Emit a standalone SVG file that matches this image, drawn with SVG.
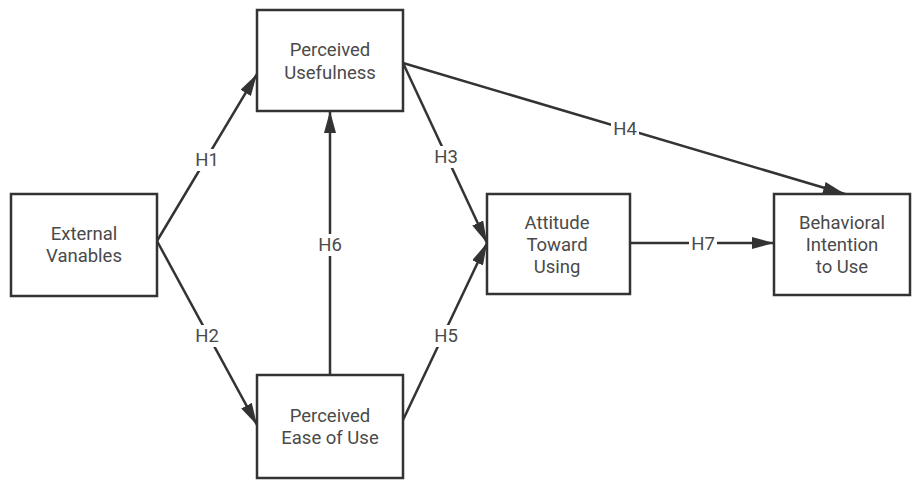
<svg xmlns="http://www.w3.org/2000/svg" width="912" height="480" viewBox="0 0 912 480">
<style>
.box{fill:#fff;stroke:#333;stroke-width:2.5}
.t{font-family:Roboto,"Noto Sans",sans-serif;font-size:18.5px;fill:#4a4a4a;text-anchor:middle}
.lbl{font-family:Roboto,"Noto Sans",sans-serif;font-size:18.5px;fill:#4a4a4a;text-anchor:middle;dominant-baseline:central}
.e{stroke:#333;stroke-width:2.5;fill:none;marker-end:url(#a)}
.bg{fill:#fff}
</style>
<defs>
<marker id="a" viewBox="0 0 22 12" refX="22" refY="6" markerWidth="22" markerHeight="12" markerUnits="userSpaceOnUse" orient="auto">
<path d="M0,0 L22,6 L0,12 z" fill="#333"/>
</marker>
</defs>
<rect width="912" height="480" fill="#fff"/>
<g id="connectors">
<line class="e" x1="157" y1="241" x2="257" y2="74"/>
<line class="e" x1="157" y1="241" x2="257" y2="425"/>
<line class="e" x1="330" y1="375" x2="330" y2="111"/>
<line class="e" x1="403" y1="63" x2="487" y2="243"/>
<line class="e" x1="403" y1="420" x2="487" y2="243"/>
<line class="e" x1="403" y1="63" x2="845" y2="194"/>
<line class="e" x1="630" y1="243" x2="774" y2="243"/>
<rect class="bg" x="193" y="149" width="28" height="22"/>
<text class="lbl" x="207" y="160">H1</text>
<rect class="bg" x="193" y="325" width="28" height="22"/>
<text class="lbl" x="207" y="336">H2</text>
<rect class="bg" x="316" y="234" width="28" height="22"/>
<text class="lbl" x="330" y="245">H6</text>
<rect class="bg" x="432" y="146" width="28" height="22"/>
<text class="lbl" x="446" y="157">H3</text>
<rect class="bg" x="432" y="325" width="28" height="22"/>
<text class="lbl" x="446" y="336">H5</text>
<rect class="bg" x="611" y="118" width="28" height="22"/>
<text class="lbl" x="625" y="129">H4</text>
<rect class="bg" x="689" y="233" width="28" height="22"/>
<text class="lbl" x="703" y="244">H7</text>
</g>
<g id="external">
<rect class="box" x="11" y="194" width="146" height="102"/>
<text class="t" x="84" y="240">External</text>
<text class="t" x="84" y="262">Vanables</text>
</g>
<g id="pu">
<rect class="box" x="257" y="10" width="146" height="101"/>
<text class="t" x="330" y="56">Perceived</text>
<text class="t" x="330" y="79">Usefulness</text>
</g>
<g id="peou">
<rect class="box" x="257" y="375" width="146" height="103"/>
<text class="t" x="330" y="422">Perceived</text>
<text class="t" x="330" y="444">Ease of Use</text>
</g>
<g id="attitude">
<rect class="box" x="487" y="194" width="143" height="100"/>
<text class="t" x="557" y="229">Attitude</text>
<text class="t" x="557" y="251">Toward</text>
<text class="t" x="557" y="273">Using</text>
</g>
<g id="bi">
<rect class="box" x="774" y="194" width="136" height="101"/>
<text class="t" x="842" y="229">Behavioral</text>
<text class="t" x="842" y="251">Intention</text>
<text class="t" x="842" y="273">to Use</text>
</g>
</svg>
